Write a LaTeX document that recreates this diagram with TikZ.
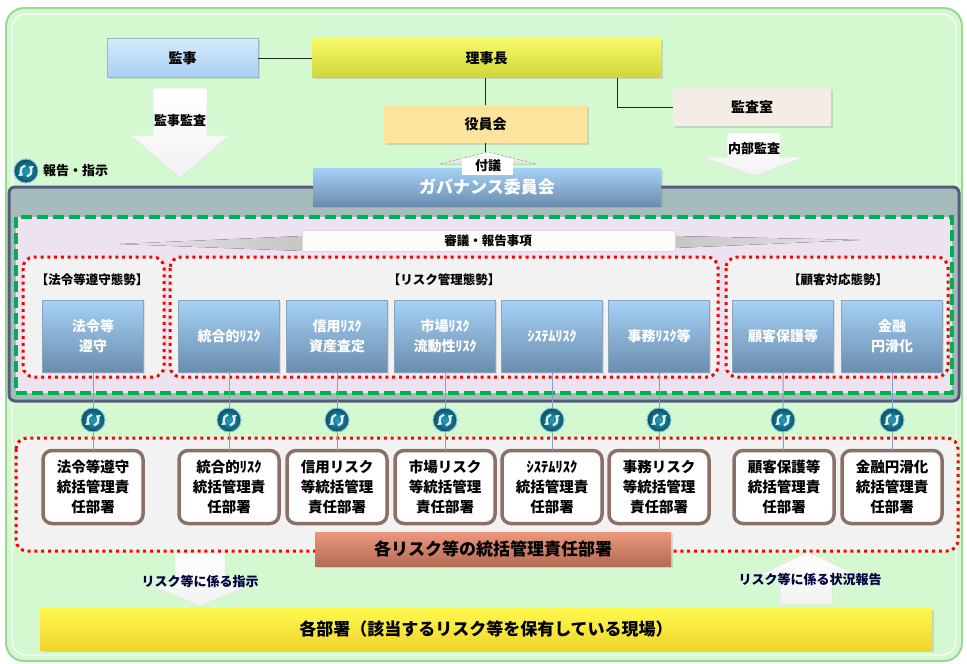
\documentclass[tikz,border=0pt]{standalone}
\usepackage{fontspec}
\setmainfont{Noto Sans CJK JP}
\usetikzlibrary{arrows.meta,positioning,shadows}

\definecolor{bggreen}{HTML}{D4F9D0}
\definecolor{bgedge}{HTML}{9CD698}
\definecolor{govfill}{HTML}{A3BBBB}
\definecolor{govedge}{HTML}{565A7C}
\definecolor{dashgreen}{HTML}{00B050}
\definecolor{lavender}{HTML}{EDE2EF}
\definecolor{framegray}{HTML}{F2F2F2}
\definecolor{bluetop}{HTML}{A6D2F6}
\definecolor{bluebot}{HTML}{6A8DAE}
\definecolor{deptbrown}{HTML}{8B7068}
\definecolor{linkblue}{HTML}{7FA3C4}
\definecolor{icondark}{HTML}{0B4F66}
\definecolor{iconlight}{HTML}{2A9CB8}
\definecolor{kanjitop}{HTML}{D5EBFD}
\definecolor{kanjibot}{HTML}{A8CEF2}
\definecolor{rijitop}{HTML}{F7FB66}
\definecolor{rijibot}{HTML}{D0D43A}
\definecolor{yakuinfill}{HTML}{FDE49C}
\definecolor{kansafill}{HTML}{F3ECE7}
\definecolor{salmontop}{HTML}{EC977C}
\definecolor{salmonbot}{HTML}{B56B56}
\definecolor{fieldtop}{HTML}{FFF94E}
\definecolor{fieldbot}{HTML}{EFD52C}

\tikzset{
  topbox/.style={rectangle, inner sep=0pt, outer sep=0pt, minimum height=39pt,
    font=\fontsize{14}{16}\selectfont\bfseries,
    drop shadow={opacity=0.25, shadow xshift=1.5pt, shadow yshift=-1.5pt}},
  riskbox/.style={rectangle, inner sep=0pt, outer sep=0pt, minimum width=101pt,
    minimum height=72pt, top color=bluetop, bottom color=bluebot, draw=bluebot!80,
    line width=0.4pt, text=white, align=center,
    font=\fontsize{14}{20}\selectfont\bfseries,
    drop shadow={opacity=0.2, shadow xshift=1.5pt, shadow yshift=-1.5pt}},
  deptbox/.style={rectangle, rounded corners=9pt, inner sep=0pt, outer sep=0pt,
    minimum width=100pt, minimum height=73pt, draw=deptbrown, line width=3.5pt,
    fill=white, align=center, font=\fontsize{14.5}{20}\selectfont\bfseries},
  redframe/.style={draw=red, line width=3pt, dash pattern=on 3pt off 3.8pt,
    rounded corners=11pt, fill=framegray},
  heading/.style={font=\fontsize{12.5}{14}\selectfont\bfseries},
  link/.style={draw=linkblue, line width=1pt},
  line/.style={draw=black!85, line width=1pt},
  blockarrow/.style={top color=white, bottom color=gray!10, draw=gray!22, line width=0.5pt},
  arrowtext/.style={font=\fontsize{13}{15}\selectfont\bfseries},
  icon/.style={circle, minimum size=24pt, inner sep=0pt, draw=iconlight!60!white, line width=1pt,
    inner color=iconlight, outer color=icondark,
    path picture={
      \draw[white!85!cyan, line width=2.2pt, -{Triangle[length=3.6pt,width=6pt]}]
        ([shift={(100:5.5pt)}]path picture bounding box.center)
        arc[start angle=100, end angle=235, radius=5.5pt];
      \draw[white!85!cyan, line width=2.2pt, -{Triangle[length=3.6pt,width=6pt]}]
        ([shift={(280:5.5pt)}]path picture bounding box.center)
        arc[start angle=280, end angle=415, radius=5.5pt];
    }}
}

\begin{document}
\begin{tikzpicture}[x=1pt, y=-1pt]
  \useasboundingbox (0,0) rectangle (967,664);

  % background
  \draw[fill=bggreen, draw=bgedge, line width=2pt, rounded corners=18pt] (6,8) rectangle (962,661);
  \draw[white, line width=1pt, rounded corners=14pt] (12,14) rectangle (956,655);

  % governance area
  \draw[fill=govfill, draw=govedge, line width=3pt, rounded corners=6pt] (9,187) rectangle (959,401);
  \draw[fill=lavender, draw=dashgreen, line width=4pt, dash pattern=on 11pt off 5pt] (16,217) rectangle (952,393);

  % deliberation banner
  \fill[left color=lavender, right color=gray!45] (120,244) -- (303,236) -- (303,251) -- cycle;
  \fill[left color=gray!45, right color=lavender] (674,236) -- (860,240) -- (674,248) -- cycle;
  \draw[fill=white!97!gray, draw=gray!30, line width=0.5pt] (302,230) rectangle (675,251);
  \node[heading] (shingi) at (488,241) {審議・報告事項};

  % frames
  \draw[redframe] (23,257) rectangle (164,377);
  \draw[redframe] (170,257) rectangle (718,377);
  \draw[redframe] (726,257) rectangle (948,377);
  \node[heading] (hrei) at (92,280) {【法令等遵守態勢】};
  \node[heading] (hrisk) at (444,280) {【リスク管理態勢】};
  \node[heading] (hkokyaku) at (838,280) {【顧客対応態勢】};

  % risk categories
  \node[riskbox] (b1) at (93,336) {法令等\\遵守};
  \node[riskbox] (b2) at (229,336) {統合的ﾘｽｸ};
  \node[riskbox] (b3) at (337,336) {信用ﾘｽｸ\\資産査定};
  \node[riskbox] (b4) at (445,336) {市場ﾘｽｸ\\流動性ﾘｽｸ};
  \node[riskbox] (b5) at (552,336) {ｼｽﾃﾑﾘｽｸ};
  \node[riskbox] (b6) at (659,336) {事務ﾘｽｸ等};
  \node[riskbox] (b7) at (783,336) {顧客保護等};
  \node[riskbox] (b8) at (892,336) {金融\\円滑化};

  % top of organisation
  \node[topbox, minimum width=151pt, top color=kanjitop, bottom color=kanjibot, draw=kanjibot!70!gray] (kanji) at (182.5,58) {監事};
  \node[topbox, minimum width=349pt, top color=rijitop, bottom color=rijibot] (riji) at (486.5,58) {理事長};
  \node[topbox, minimum width=203pt, minimum height=38pt, fill=yakuinfill] (yakuin) at (485.5,124) {役員会};
  \node[topbox, minimum width=158pt, minimum height=38pt, fill=kansafill] (kansa) at (752,107) {監査室};
  \coordinate (kbranch) at (617,78);
  \coordinate (fugi) at (488,152);
  \draw[line] (kanji) -- (riji);
  \draw[line] (yakuin.north) -- (yakuin.north |- riji.south);
  \draw[line] (kbranch) |- (kansa);
  \draw[line] (yakuin.south) -- (yakuin.south |- fugi);

  \node[topbox, minimum width=348pt, minimum height=38pt, top color=bluetop, bottom color=bluebot,
        text=white, font=\fontsize{17}{19}\selectfont\bfseries] (gov) at (487,187) {ガバナンス委員会};

  % referral arrow
  \fill[top color=white, bottom color=gray!25] (fugi) -- (536,164) -- (440,164) -- cycle;
  \fill[white] (462,158) rectangle (513,175);
  \node[arrowtext] (fugitext) at (488,166) {付議};

  % audit arrows
  \draw[blockarrow] (153,88) -- (207,88) -- (207,135) -- (230,135) -- (180,178)
                    -- (130,135) -- (153,135) -- cycle;
  \node[arrowtext] (kanjikansa) at (180,121) {監事監査};
  \draw[blockarrow] (727,133) -- (780,133) -- (780,157) -- (805,157) -- (754,176)
                    -- (703,157) -- (727,157) -- cycle;
  \node[arrowtext] (naibu) at (754,149) {内部監査};

  % legend
  \node[icon] (legicon) at (26,171) {};
  \node[arrowtext, right=1pt of legicon] (legtext) {報告・指示};

  % responsible departments
  \draw[redframe] (16,438) rectangle (958,551);
  \node[deptbox] (d1) at (93,487) {法令等遵守\\統括管理責\\任部署};
  \node[deptbox] (d2) at (229,487) {統合的ﾘｽｸ\\統括管理責\\任部署};
  \node[deptbox] (d3) at (337,487) {信用リスク\\等統括管理\\責任部署};
  \node[deptbox] (d4) at (445,487) {市場リスク\\等統括管理\\責任部署};
  \node[deptbox] (d5) at (552,487) {ｼｽﾃﾑﾘｽｸ\\統括管理責\\任部署};
  \node[deptbox] (d6) at (659,487) {事務リスク\\等統括管理\\責任部署};
  \node[deptbox] (d7) at (784,487) {顧客保護等\\統括管理責\\任部署};
  \node[deptbox] (d8) at (892,487) {金融円滑化\\統括管理責\\任部署};

  % report / instruct links
  \node[icon] (i1) at (93,420) {};
  \node[icon] (i2) at (229,420) {};
  \node[icon] (i3) at (337,420) {};
  \node[icon] (i4) at (445,420) {};
  \node[icon] (i5) at (552,420) {};
  \node[icon] (i6) at (659,420) {};
  \node[icon] (i7) at (783,420) {};
  \node[icon] (i8) at (892,420) {};
  \draw[link] (b1) -- (i1) -- (d1);
  \draw[link] (b2) -- (i2) -- (d2);
  \draw[link] (b3) -- (i3) -- (d3);
  \draw[link] (b4) -- (i4) -- (d4);
  \draw[link] (b5) -- (i5) -- (d5);
  \draw[link] (b6) -- (i6) -- (d6);
  \draw[link] (b7) -- (i7) -- (d7);
  \draw[link] (b8) -- (i8) -- (d8);

  \node[topbox, minimum width=356pt, minimum height=34pt, top color=salmontop, bottom color=salmonbot,
        font=\fontsize{17}{19}\selectfont\bfseries] (kakurisk) at (493,549) {各リスク等の統括管理責任部署};

  % instructions and status reports
  \draw[blockarrow] (175,553) -- (225,553) -- (225,585) -- (250,585) -- (200,606)
                    -- (150,585) -- (175,585) -- cycle;
  \node[arrowtext, text=black!75!blue] (shiji) at (200,581) {リスク等に係る指示};
  \draw[blockarrow] (808,552) -- (857,575) -- (832,575) -- (832,604) -- (780,604)
                    -- (780,575) -- (760,575) -- cycle;
  \node[arrowtext, text=black!75!blue] (houkoku) at (810,580) {リスク等に係る状況報告};

  % field departments
  \node[topbox, minimum width=892pt, minimum height=42pt, top color=fieldtop, bottom color=fieldbot,
        font=\fontsize{17}{19}\selectfont\bfseries] (kakubusho) at (486,629) {各部署（該当するリスク等を保有している現場）};
\end{tikzpicture}
\end{document}
